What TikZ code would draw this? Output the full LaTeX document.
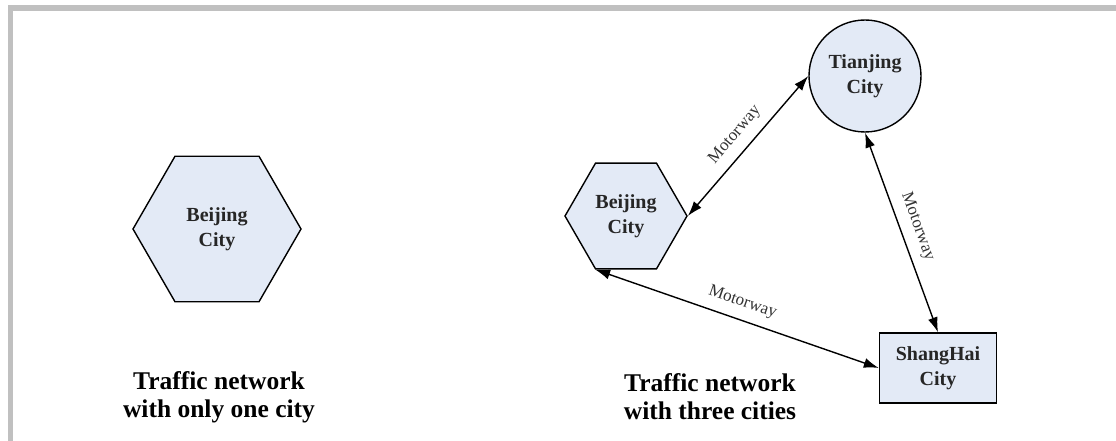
\documentclass[tikz,border=0pt]{standalone}
\usepackage{fontspec}
\setmainfont{Liberation Serif}
\usetikzlibrary{shapes.geometric}
\usetikzlibrary{arrows.meta}
\tikzset{>=latex}
\definecolor{cityfill}{RGB}{227,234,246}
\definecolor{framegray}{RGB}{192,192,192}
\tikzstyle{city}=[draw,line width=1.4pt,fill=cityfill,align=center,text=black!85,font=\fontsize{20}{25}\selectfont\bfseries]
\tikzstyle{hexcity}=[city,regular polygon,regular polygon sides=6,inner sep=0pt]
\tikzstyle{road}=[{Latex[length=15,width=10]}-{Latex[length=15,width=10]},line width=1.4pt]
\tikzstyle{roadlabel}=[font=\fontsize{17}{20}\selectfont,text=black!80,sloped,midway,above=7pt,inner sep=2pt]
\tikzstyle{caption}=[align=center,font=\fontsize{25.5}{28}\selectfont\bfseries]

\begin{document}
\begin{tikzpicture}[x=1pt,y=-1pt]
      \useasboundingbox (0,0) rectangle (1116,441);
      % frame
      \fill[framegray] (8,5) rectangle (1116,11);
      \fill[framegray] (8,5) rectangle (13,441);
      % one city
      \node[hexcity,minimum size=168] (bjone) at (217,229) {Beijing\\City};
      \node[caption] (capone) at (219,397) {Traffic network\\with only one city};
      % three cities
      \node[hexcity,minimum size=122] (bj) at (626,216) {Beijing\\City};
      \node[city,circle,minimum size=112,inner sep=0pt] (tj) at (865,76) {Tianjing\\City};
      \node[city,rectangle,minimum width=117,minimum height=70,inner sep=0pt] (sh) at (938,368) {ShangHai\\City};
      \draw[road] (bj.east) -- (tj.west) node[roadlabel] {Motorway};
      \draw[road] (tj.south) -- (sh.north) node[roadlabel] {Motorway};
      \draw[road] (bj.corner 4) -- (sh.west) node[roadlabel] {Motorway};
      \node[caption] (capthree) at (710,397) {Traffic network\\with three cities};
    \end{tikzpicture}
\end{document}
